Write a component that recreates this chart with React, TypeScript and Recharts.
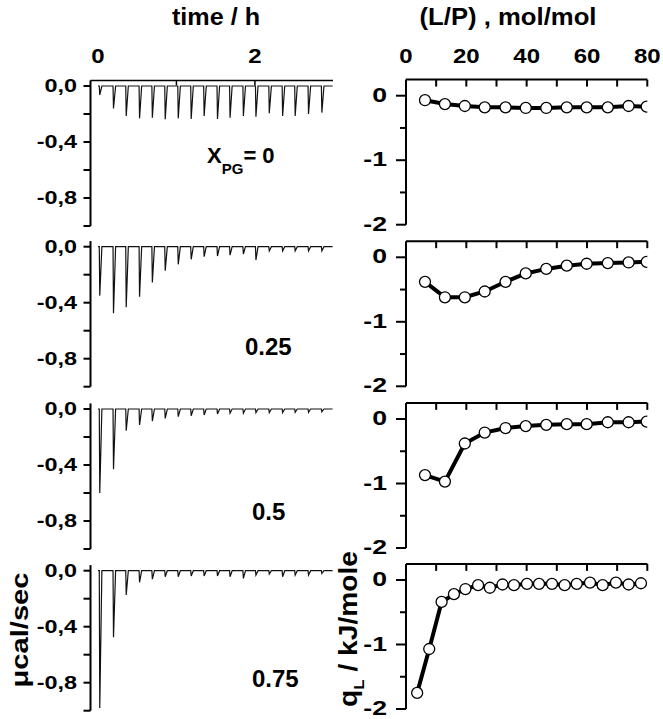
import React from 'react';
import { LineChart, Line, XAxis, YAxis } from 'recharts';

const W = 663;
const H = 719;
const FONT = '"Liberation Sans", Arial, Helvetica, sans-serif';

// injection times (h) - same protocol in all four thermograms
const injectionTimes = [
  0.02, 0.195, 0.357, 0.527, 0.69, 0.854, 1.02, 1.185, 1.35,
  1.52, 1.68, 1.85, 2.01, 2.18, 2.35, 2.51, 2.68, 2.85,
];

// peak heat flow of every injection, µcal/sec
const peaksX0 = [
  -0.064, -0.16, -0.214, -0.231, -0.226, -0.238, -0.231, -0.236, -0.214,
  -0.236, -0.226, -0.214, -0.219, -0.195, -0.214, -0.214, -0.2, -0.19,
];
const peaksX025 = [
  -0.35, -0.476, -0.433, -0.357, -0.255, -0.171, -0.126, -0.09, -0.071,
  -0.067, -0.06, -0.052, -0.095, -0.03, -0.03, -0.03, -0.03, -0.03,
];
const peaksX05 = [
  -0.6, -0.43, -0.155, -0.114, -0.086, -0.067, -0.055, -0.048, -0.043,
  -0.036, -0.03, -0.03, -0.026, -0.026, -0.026, -0.024, -0.024, -0.02,
];
const peaksX075 = [
  -0.98, -0.476, -0.174, -0.083, -0.06, -0.043, -0.043, -0.038, -0.038,
  -0.038, -0.043, -0.055, -0.031, -0.024, -0.043, -0.031, -0.031, -0.02,
];

// X_PG of each row
const compositionLabels = ['0', '0.25', '0.5', '0.75'];

// reaction heat per injected lipid vs lipid/peptide ratio
const lpRatio = [6.3, 12.9, 19.5, 26.1, 33.0, 39.7, 46.5, 53.3, 59.9, 66.9, 73.8, 79.8];
const lpRatioFine = [
  3.7, 7.7, 11.8, 15.9, 19.7, 23.9, 27.8, 32.0, 35.8, 40.1,
  44.1, 48.4, 52.6, 56.6, 61.0, 65.2, 69.6, 73.8, 77.9,
];
const qX0 = [-0.07, -0.13, -0.16, -0.18, -0.18, -0.19, -0.19, -0.18, -0.18, -0.18, -0.16, -0.17];
const qX025 = [-0.38, -0.62, -0.62, -0.53, -0.38, -0.25, -0.18, -0.13, -0.1, -0.09, -0.08, -0.07];
const qX05 = [-0.87, -0.97, -0.38, -0.21, -0.14, -0.11, -0.09, -0.08, -0.08, -0.05, -0.05, -0.04];
const qX075 = [
  -1.75, -1.07, -0.34, -0.22, -0.14, -0.08, -0.12, -0.07, -0.08, -0.06,
  -0.06, -0.06, -0.08, -0.06, -0.04, -0.08, -0.04, -0.07, -0.05,
];

// axis ticks
const timeTicks = [0, 1, 2];
const timeLabels = [0, 2];
const powerTicks = [0, -0.2, -0.4, -0.6, -0.8, -1];
const powerLabels = [0, -0.4, -0.8];
const lpTicks = [0, 10, 20, 30, 40, 50, 60, 70, 80];
const lpLabels = [0, 20, 40, 60, 80];
const qTicks = [0, -0.5, -1, -1.5, -2];

// layout of the panels (pixel rows where the zero line sits)
const leftZero = [86, 246.7, 409, 570.7];
const rightZero = [95.7, 257.3, 419, 580];

const near = (a: number, list: number[]) => list.some((m) => Math.abs(m - a) < 1e-6);

const Lbl = ({ x, y, size, sx = 1, anchor = 'middle', children }: any) => (
  <text
    transform={`translate(${x},${y}) scale(${sx},1)`}
    textAnchor={anchor}
    fontFamily={FONT}
    fontWeight="bold"
    fontSize={size}
    fill="#000"
  >
    {children}
  </text>
);

const powerTick = (props: any) => {
  const { x, y, payload } = props;
  const v = payload.value;
  return (
    <g>
      <line x1={x - 7} x2={x} y1={y} y2={y} stroke="#000" strokeWidth={2} />
      {near(v, powerLabels) && (
        <Lbl x={x - 13.5} y={y + 6.3} size={18} sx={1.3} anchor="end">
          {v.toFixed(1).replace('.', ',')}
        </Lbl>
      )}
    </g>
  );
};

const timeTick = (props: any) => {
  const { x, y, payload } = props;
  const v = payload.value;
  return (
    <g>
      {v !== 0 && <line x1={x} x2={x} y1={y} y2={y + 5} stroke="#000" strokeWidth={1.5} />}
      {near(v, timeLabels) && (
        <Lbl x={x} y={y - 17.2} size={20} sx={1.2}>
          {String(v)}
        </Lbl>
      )}
    </g>
  );
};

const qTick = (props: any) => {
  const { x, y, payload } = props;
  const v = payload.value;
  const major = Number.isInteger(v);
  return (
    <g>
      <line x1={x - (major ? 10 : 6)} x2={x} y1={y} y2={y} stroke="#000" strokeWidth={2} />
      {major && (
        <Lbl x={x - 19} y={y + 6} size={20.5} sx={1.3} anchor="end">
          {String(v)}
        </Lbl>
      )}
    </g>
  );
};

const makeLpTick = (withLabels: boolean) => (props: any) => {
  const { x, y, payload } = props;
  const v = payload.value;
  return (
    <g>
      {v !== 0 && <line x1={x} x2={x} y1={y} y2={y + 7} stroke="#000" strokeWidth={2} />}
      {withLabels && near(v, lpLabels) && (
        <Lbl x={x} y={y - 16.4} size={20} sx={1.2}>
          {String(v)}
        </Lbl>
      )}
    </g>
  );
};

const buildTrace = (peaks: number[]) => {
  const pts = [{ t: 0, p: 0 }];
  injectionTimes.forEach((t, i) => {
    pts.push({ t: t - 0.003, p: 0 });
    pts.push({ t: t + 0.003, p: peaks[i] });
    pts.push({ t: t + 0.03, p: 0 });
  });
  pts.push({ t: 2.99, p: 0 });
  return pts;
};

// axes need a non-zero size to be drawn, so they get 1px and the margins shrink by 1
const Thermogram = ({ peaks, zeroY, showTop }: { peaks: number[]; zeroY: number; showTop: boolean }) => {
  const top = zeroY - 0.04 * 140;
  const bottom = zeroY + 140;
  return (
    <div style={{ position: 'absolute', left: 0, top: 0 }}>
      <LineChart
        width={W}
        height={H}
        data={buildTrace(peaks)}
        margin={{ top: showTop ? top - 1 : top, left: 90.5 - 1, right: W - 333, bottom: H - bottom }}
      >
        <XAxis
          type="number"
          dataKey="t"
          orientation="top"
          domain={[-0.095, 2.995]}
          allowDataOverflow
          height={1}
          hide={!showTop}
          ticks={timeTicks}
          interval={0}
          tickSize={0}
          tickMargin={0}
          tickLine={false}
          tick={timeTick}
          axisLine={{ stroke: '#000', strokeWidth: 1.5 }}
        />
        <YAxis
          type="number"
          domain={[-1, 0.04]}
          allowDataOverflow
          width={1}
          ticks={powerTicks}
          interval={0}
          tickSize={0}
          tickMargin={0}
          tickLine={false}
          tick={powerTick}
          axisLine={{ stroke: '#000', strokeWidth: 2 }}
        />
        <Line type="linear" dataKey="p" stroke="#111" strokeWidth={1.2} dot={false} isAnimationActive={false} />
      </LineChart>
    </div>
  );
};

const Titration = ({ xs, qs, zeroY, showLabels }: { xs: number[]; qs: number[]; zeroY: number; showLabels: boolean }) => {
  const top = zeroY - 0.25 * 64.5;
  const bottom = zeroY + 2 * 64.5;
  const data = xs.map((lp, i) => ({ lp, q: qs[i] }));
  return (
    <div style={{ position: 'absolute', left: 0, top: 0 }}>
      <LineChart
        width={W}
        height={H}
        data={data}
        margin={{ top: top - 1, left: 406 - 1, right: W - 647.3, bottom: H - bottom }}
      >
        <XAxis
          type="number"
          dataKey="lp"
          orientation="top"
          domain={[0, 80]}
          allowDataOverflow
          height={1}
          ticks={lpTicks}
          interval={0}
          tickSize={0}
          tickMargin={0}
          tickLine={false}
          tick={makeLpTick(showLabels)}
          axisLine={{ stroke: '#000', strokeWidth: 2 }}
        />
        <YAxis
          type="number"
          domain={[-2, 0.25]}
          allowDataOverflow
          width={1}
          ticks={qTicks}
          interval={0}
          tickSize={0}
          tickMargin={0}
          tickLine={false}
          tick={qTick}
          axisLine={{ stroke: '#000', strokeWidth: 2 }}
        />
        <Line
          type="linear"
          dataKey="q"
          stroke="#000"
          strokeWidth={4}
          dot={{ r: 5.5, fill: '#fff', stroke: '#000', strokeWidth: 1.3 }}
          isAnimationActive={false}
        />
      </LineChart>
    </div>
  );
};

const thermograms = [peaksX0, peaksX025, peaksX05, peaksX075];
const titrations = [
  { xs: lpRatio, qs: qX0 },
  { xs: lpRatio, qs: qX025 },
  { xs: lpRatio, qs: qX05 },
  { xs: lpRatioFine, qs: qX075 },
];

export default function App() {
  return (
    <div style={{ position: 'absolute', left: 0, top: 0, width: W, height: H, background: '#fff' }}>
      {thermograms.map((p, i) => (
        <Thermogram key={`t${i}`} peaks={p} zeroY={leftZero[i]} showTop={i === 0} />
      ))}
      {titrations.map((d, i) => (
        <Titration key={`q${i}`} xs={d.xs} qs={d.qs} zeroY={rightZero[i]} showLabels={i === 0} />
      ))}
      <svg
        width={W}
        height={H}
        style={{ position: 'absolute', left: 0, top: 0, pointerEvents: 'none' }}
        fontFamily={FONT}
        fontWeight="bold"
      >
        <text x={216} y={25} fontSize={24} textAnchor="middle" textLength={88} lengthAdjust="spacingAndGlyphs">
          time / h
        </text>
        <text x={508} y={25} fontSize={24} textAnchor="middle" textLength={177} lengthAdjust="spacingAndGlyphs">
          (L/P) , mol/mol
        </text>
        <text x={207} y={163} fontSize={22}>
          X
          <tspan fontSize={15} dy={11}>PG</tspan>
          <tspan dy={-11}>= {compositionLabels[0]}</tspan>
        </text>
        <text x={245} y={355} fontSize={24}>{compositionLabels[1]}</text>
        <text x={252} y={520} fontSize={24}>{compositionLabels[2]}</text>
        <text x={252} y={687} fontSize={24}>{compositionLabels[3]}</text>
        <text
          transform="translate(28,630) rotate(-90)"
          fontSize={24}
          textAnchor="middle"
          textLength={115}
          lengthAdjust="spacingAndGlyphs"
        >
          μcal/sec
        </text>
        <text
          transform="translate(357,629) rotate(-90)"
          fontSize={25}
          textAnchor="middle"
          textLength={156}
          lengthAdjust="spacingAndGlyphs"
        >
          q<tspan fontSize={15} dy={7}>L</tspan>
          <tspan dy={-7}>{'   / kJ/mole'}</tspan>
        </text>
      </svg>
    </div>
  );
}
